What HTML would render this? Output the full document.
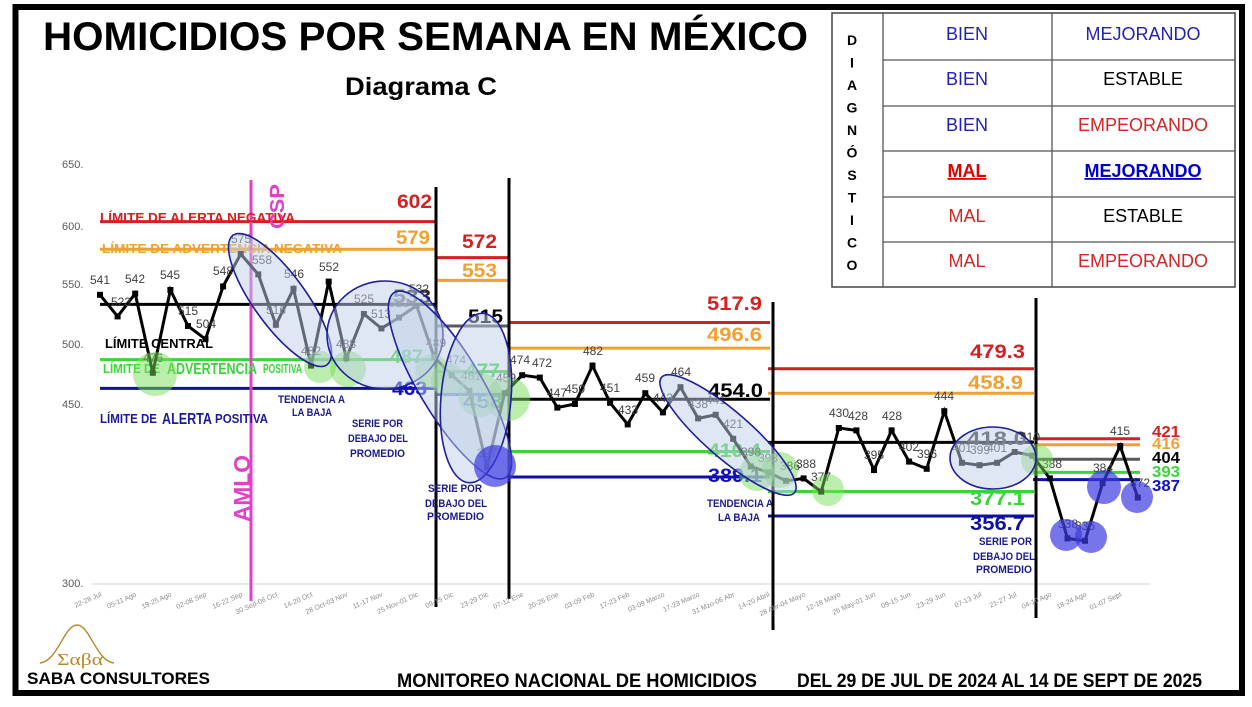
<!DOCTYPE html>
<html><head><meta charset="utf-8"><style>html,body{margin:0;padding:0;background:#fff}svg{display:block}</style></head>
<body>
<svg width="1252" height="707" viewBox="0 0 1252 707" font-family="'Liberation Sans', Arial, sans-serif">
<rect width="1252" height="707" fill="#fff"/>
<rect x="15.5" y="7" width="1226.5" height="686" fill="none" stroke="#000" stroke-width="6"/>

<!-- Title -->
<text x="43" y="50" font-size="40" font-weight="bold" fill="#000" textLength="765" lengthAdjust="spacingAndGlyphs">HOMICIDIOS POR SEMANA EN MÉXICO</text>
<text x="345" y="95" font-size="25" font-weight="bold" fill="#000" textLength="152" lengthAdjust="spacingAndGlyphs">Diagrama C</text>

<!-- Table -->
<rect x="832" y="13" width="403" height="274" fill="#fff" stroke="#444" stroke-width="1.5"/>
<g stroke="#555" stroke-width="1.3">
<line x1="883" y1="13" x2="883" y2="287"/><line x1="1052" y1="13" x2="1052" y2="287"/>
<line x1="883" y1="60" x2="1235" y2="60"/><line x1="883" y1="106" x2="1235" y2="106"/>
<line x1="883" y1="151" x2="1235" y2="151"/><line x1="883" y1="197" x2="1235" y2="197"/>
<line x1="883" y1="242" x2="1235" y2="242"/>
</g>
<g font-size="14" font-weight="bold" fill="#000" text-anchor="middle">
<text x="852" y="45">D</text><text x="852" y="67.5">I</text><text x="852" y="90">A</text><text x="852" y="112.5">G</text><text x="852" y="135">N</text><text x="852" y="157.5">Ó</text><text x="852" y="180">S</text><text x="852" y="202.5">T</text><text x="852" y="225">I</text><text x="852" y="247.5">C</text><text x="852" y="270">O</text>
</g>
<g font-size="18" text-anchor="middle">
<text x="967" y="40" fill="#2222b0">BIEN</text><text x="1143" y="40" fill="#2222b0">MEJORANDO</text>
<text x="967" y="85" fill="#2222b0">BIEN</text><text x="1143" y="85" fill="#000">ESTABLE</text>
<text x="967" y="131" fill="#2222b0">BIEN</text><text x="1143" y="131" fill="#d42525">EMPEORANDO</text>
<text x="967" y="177" fill="#e00000" font-weight="bold" text-decoration="underline">MAL</text><text x="1143" y="177" fill="#0000c8" font-weight="bold" text-decoration="underline">MEJORANDO</text>
<text x="967" y="222" fill="#d42525">MAL</text><text x="1143" y="222" fill="#000">ESTABLE</text>
<text x="967" y="267" fill="#d42525">MAL</text><text x="1143" y="267" fill="#d42525">EMPEORANDO</text>
</g>

<!-- Y axis labels -->
<g font-size="11" fill="#595959">
<text x="62" y="168">650.</text><text x="62" y="230">600.</text><text x="62" y="288">550.</text><text x="62" y="348">500.</text><text x="62" y="408">450.</text><text x="62" y="587">300.</text>
</g>
<line x1="92" y1="584" x2="1150" y2="584" stroke="#d9d9d9" stroke-width="1.2"/>

<!-- Limit lines -->
<g stroke-width="3">
<line x1="100" y1="221.6" x2="436" y2="221.6" stroke="#d42020"/>
<line x1="100" y1="249.2" x2="436" y2="249.2" stroke="#f0a030"/>
<line x1="100" y1="304.4" x2="436" y2="304.4" stroke="#000"/>
<line x1="100" y1="359.6" x2="436" y2="359.6" stroke="#3ad43a"/>
<line x1="100" y1="388.4" x2="436" y2="388.4" stroke="#1010a0"/>
<line x1="436" y1="257.6" x2="509" y2="257.6" stroke="#d42020"/>
<line x1="436" y1="280.4" x2="509" y2="280.4" stroke="#f0a030"/>
<line x1="436" y1="326" x2="509" y2="326" stroke="#595959"/>
<line x1="436" y1="371.6" x2="509" y2="371.6" stroke="#3ad43a"/>
<line x1="436" y1="394.4" x2="509" y2="394.4" stroke="#1010a0"/>
<line x1="509" y1="322.5" x2="770" y2="322.5" stroke="#d42020"/>
<line x1="509" y1="348.1" x2="770" y2="348.1" stroke="#f0a030"/>
<line x1="509" y1="399.2" x2="770" y2="399.2" stroke="#000"/>
<line x1="509" y1="451.5" x2="770" y2="451.5" stroke="#3ad43a"/>
<line x1="509" y1="477" x2="770" y2="477" stroke="#1010a0"/>
<line x1="768" y1="368.8" x2="1034" y2="368.8" stroke="#d42020"/>
<line x1="768" y1="393.3" x2="1034" y2="393.3" stroke="#f0a030"/>
<line x1="768" y1="442.4" x2="1034" y2="442.4" stroke="#000"/>
<line x1="768" y1="491.5" x2="1034" y2="491.5" stroke="#3ad43a"/>
<line x1="768" y1="516" x2="1034" y2="516" stroke="#1010a0"/>
<line x1="1033" y1="438.8" x2="1140" y2="438.8" stroke="#d42020"/>
<line x1="1033" y1="444.8" x2="1140" y2="444.8" stroke="#f0a030"/>
<line x1="1033" y1="459.2" x2="1140" y2="459.2" stroke="#595959"/>
<line x1="1033" y1="472.4" x2="1140" y2="472.4" stroke="#3ad43a"/>
<line x1="1033" y1="479.6" x2="1140" y2="479.6" stroke="#1010a0"/>
</g>

<!-- Vertical lines -->
<g stroke-width="3">
<line x1="251" y1="180" x2="251" y2="601" stroke="#e040c8"/>
<line x1="436" y1="187" x2="436" y2="607" stroke="#000"/>
<line x1="509" y1="178" x2="509" y2="599" stroke="#000"/>
<line x1="773" y1="302" x2="773" y2="630" stroke="#000"/>
<line x1="1036" y1="298" x2="1036" y2="618" stroke="#000"/>
</g>
<text transform="translate(250,522) rotate(-90)" font-size="23" font-weight="bold" fill="#e040c8" textLength="67" lengthAdjust="spacingAndGlyphs">AMLO</text>
<text transform="translate(284,229) rotate(-90)" font-size="20" font-weight="bold" fill="#e040c8" textLength="45" lengthAdjust="spacingAndGlyphs">CSP</text>

<!-- Limit names -->
<g font-weight="bold">
<text x="100" y="222" font-size="13" fill="#d42020" textLength="195" lengthAdjust="spacingAndGlyphs">LÍMITE DE ALERTA NEGATIVA</text>
<text x="102" y="253" font-size="13" fill="#f0a030" textLength="240" lengthAdjust="spacingAndGlyphs">LÍMITE DE ADVERTENCIA NEGATIVA</text>
<text x="105" y="348" font-size="13" fill="#000" textLength="108" lengthAdjust="spacingAndGlyphs">LÍMITE CENTRAL</text>
<text x="103" y="373" font-size="13" fill="#3ad43a" textLength="57" lengthAdjust="spacingAndGlyphs">LÍMITE DE</text>
<text x="167" y="374" font-size="16" fill="#3ad43a" textLength="90" lengthAdjust="spacingAndGlyphs">ADVERTENCIA</text>
<text x="263" y="373" font-size="13" fill="#3ad43a" textLength="39" lengthAdjust="spacingAndGlyphs">POSITIVA</text>
<text x="100" y="423" font-size="13" fill="#1a1a9a" textLength="57" lengthAdjust="spacingAndGlyphs">LÍMITE DE</text>
<text x="162" y="424" font-size="16" fill="#1a1a9a" textLength="50" lengthAdjust="spacingAndGlyphs">ALERTA</text>
<text x="215" y="423" font-size="13" fill="#1a1a9a" textLength="53" lengthAdjust="spacingAndGlyphs">POSITIVA</text>
</g>

<!-- Limit values -->
<g font-weight="bold" font-size="19">
<text x="397" y="208" fill="#d42020" textLength="35" lengthAdjust="spacingAndGlyphs">602</text>
<text x="396" y="244" fill="#f0a030" textLength="34" lengthAdjust="spacingAndGlyphs">579</text>
<text x="393" y="303" fill="#222" textLength="38" lengthAdjust="spacingAndGlyphs">533</text>
<text x="390" y="363" fill="#3ad43a" textLength="33" lengthAdjust="spacingAndGlyphs">487</text>
<text x="392" y="395" fill="#1010c0" textLength="35" lengthAdjust="spacingAndGlyphs">463</text>
<text x="462" y="248" fill="#d42020" textLength="35" lengthAdjust="spacingAndGlyphs">572</text>
<text x="462" y="277" fill="#f0a030" textLength="35" lengthAdjust="spacingAndGlyphs">553</text>
<text x="468" y="323" fill="#000" textLength="35" lengthAdjust="spacingAndGlyphs">515</text>
<text x="465" y="377" fill="#3ad43a" textLength="35" lengthAdjust="spacingAndGlyphs">477</text>
<text x="463" y="408" fill="#1010c0" textLength="40" lengthAdjust="spacingAndGlyphs">458</text>
<text x="707" y="310" fill="#d42020" textLength="55" lengthAdjust="spacingAndGlyphs">517.9</text>
<text x="707" y="341" fill="#f0a030" textLength="55" lengthAdjust="spacingAndGlyphs">496.6</text>
<text x="708" y="397" fill="#000" textLength="55" lengthAdjust="spacingAndGlyphs">454.0</text>
<text x="708" y="457" fill="#3ad43a" textLength="53" lengthAdjust="spacingAndGlyphs">410.4</text>
<text x="708" y="482" fill="#1010c0" textLength="54" lengthAdjust="spacingAndGlyphs">389.1</text>
<text x="970" y="358" fill="#d42020" textLength="55" lengthAdjust="spacingAndGlyphs">479.3</text>
<text x="968" y="389" fill="#f0a030" textLength="55" lengthAdjust="spacingAndGlyphs">458.9</text>
<text x="967" y="445" fill="#333" textLength="60" lengthAdjust="spacingAndGlyphs">418.0</text>
<text x="970" y="505" fill="#3ad43a" textLength="55" lengthAdjust="spacingAndGlyphs">377.1</text>
<text x="970" y="530" fill="#1010a0" textLength="55" lengthAdjust="spacingAndGlyphs">356.7</text>
</g>
<g font-weight="bold" font-size="16">
<text x="1152" y="437" fill="#d42020" textLength="28" lengthAdjust="spacingAndGlyphs">421</text>
<text x="1152" y="449" fill="#f0a030" textLength="28" lengthAdjust="spacingAndGlyphs">416</text>
<text x="1152" y="463" fill="#000" textLength="28" lengthAdjust="spacingAndGlyphs">404</text>
<text x="1152" y="477" fill="#3ad43a" textLength="28" lengthAdjust="spacingAndGlyphs">393</text>
<text x="1152" y="491" fill="#1010c0" textLength="28" lengthAdjust="spacingAndGlyphs">387</text>
</g>

<!-- Series -->
<polyline fill="none" stroke="#000" stroke-width="3" stroke-linejoin="miter" points="100,294.8 117.6,316.4 135.2,293.6 152.8,372.8 170.4,290 188,326 205.5,339.2 223.1,286.4 240.7,254 258.3,274.4 275.9,324.8 293.5,288.8 311.1,365.6 328.7,281.6 346.3,358.4 363.9,314 381.4,328.4 399,317.6 416.6,305.6 434.2,357.2 451.8,375.2 469.4,390.8 487,467.6 504.6,393.2 522.2,375.2 539.8,377.6 557.3,407.6 574.9,404 592.5,365.6 610.1,402.8 627.7,424.4 645.3,393.2 662.9,412.4 680.5,387.2 698.1,418.4 715.7,414.8 733.2,438.8 750.8,466.4 768.4,472.4 786,480.8 803.6,478.4 821.2,491.6 838.8,428 856.4,430.4 874,470 891.6,430.4 909.1,461.6 926.7,468.8 944.3,411.2 961.9,462.8 979.5,465.2 997.1,462.8 1014.7,452 1032.3,455.6 1049.9,478.4 1067.5,538.4 1085,540.8 1102.6,483.2 1120.2,446 1137.8,497.6"/>
<g fill="#000">
<rect x="97" y="291.8" width="6" height="6"/><rect x="114.6" y="313.4" width="6" height="6"/><rect x="132.2" y="290.6" width="6" height="6"/><rect x="149.8" y="369.8" width="6" height="6"/><rect x="167.4" y="287" width="6" height="6"/><rect x="185" y="323" width="6" height="6"/><rect x="202.5" y="336.2" width="6" height="6"/><rect x="220.1" y="283.4" width="6" height="6"/><rect x="237.7" y="251" width="6" height="6"/><rect x="255.3" y="271.4" width="6" height="6"/><rect x="272.9" y="321.8" width="6" height="6"/><rect x="290.5" y="285.8" width="6" height="6"/><rect x="308.1" y="362.6" width="6" height="6"/><rect x="325.7" y="278.6" width="6" height="6"/><rect x="343.3" y="355.4" width="6" height="6"/><rect x="360.9" y="311" width="6" height="6"/><rect x="378.4" y="325.4" width="6" height="6"/><rect x="396" y="314.6" width="6" height="6"/><rect x="413.6" y="302.6" width="6" height="6"/><rect x="431.2" y="354.2" width="6" height="6"/><rect x="448.8" y="372.2" width="6" height="6"/><rect x="466.4" y="387.8" width="6" height="6"/><rect x="484" y="464.6" width="6" height="6"/><rect x="501.6" y="390.2" width="6" height="6"/><rect x="519.2" y="372.2" width="6" height="6"/><rect x="536.8" y="374.6" width="6" height="6"/><rect x="554.3" y="404.6" width="6" height="6"/><rect x="571.9" y="401" width="6" height="6"/><rect x="589.5" y="362.6" width="6" height="6"/><rect x="607.1" y="399.8" width="6" height="6"/><rect x="624.7" y="421.4" width="6" height="6"/><rect x="642.3" y="390.2" width="6" height="6"/><rect x="659.9" y="409.4" width="6" height="6"/><rect x="677.5" y="384.2" width="6" height="6"/><rect x="695.1" y="415.4" width="6" height="6"/><rect x="712.7" y="411.8" width="6" height="6"/><rect x="730.2" y="435.8" width="6" height="6"/><rect x="747.8" y="463.4" width="6" height="6"/><rect x="765.4" y="469.4" width="6" height="6"/><rect x="783" y="477.8" width="6" height="6"/><rect x="800.6" y="475.4" width="6" height="6"/><rect x="818.2" y="488.6" width="6" height="6"/><rect x="835.8" y="425" width="6" height="6"/><rect x="853.4" y="427.4" width="6" height="6"/><rect x="871" y="467" width="6" height="6"/><rect x="888.6" y="427.4" width="6" height="6"/><rect x="906.1" y="458.6" width="6" height="6"/><rect x="923.7" y="465.8" width="6" height="6"/><rect x="941.3" y="408.2" width="6" height="6"/><rect x="958.9" y="459.8" width="6" height="6"/><rect x="976.5" y="462.2" width="6" height="6"/><rect x="994.1" y="459.8" width="6" height="6"/><rect x="1011.7" y="449" width="6" height="6"/><rect x="1029.3" y="452.6" width="6" height="6"/><rect x="1046.9" y="475.4" width="6" height="6"/><rect x="1064.5" y="535.4" width="6" height="6"/><rect x="1082" y="537.8" width="6" height="6"/><rect x="1099.6" y="480.2" width="6" height="6"/><rect x="1117.2" y="443" width="6" height="6"/><rect x="1134.8" y="494.6" width="6" height="6"/>
</g>
<g font-size="12" fill="#404040" text-anchor="middle">
<text x="100" y="284">541</text><text x="121" y="306">523</text><text x="135" y="283">542</text><text x="153" y="362">476</text><text x="170" y="279">545</text><text x="188" y="315">515</text><text x="206" y="328">504</text><text x="223" y="275">548</text><text x="241" y="243">575</text><text x="262" y="264">558</text><text x="276" y="314">516</text><text x="294" y="278">546</text><text x="311" y="355">482</text><text x="329" y="271">552</text><text x="346" y="348">488</text><text x="364" y="303">525</text><text x="381" y="318">513</text><text x="399" y="307">522</text><text x="419" y="293">532</text><text x="436" y="347">489</text><text x="456" y="364">474</text><text x="471" y="380">461</text><text x="487" y="457">397</text><text x="506" y="382">459</text><text x="520" y="364">474</text><text x="542" y="367">472</text><text x="557" y="397">447</text><text x="575" y="393">450</text><text x="593" y="355">482</text><text x="610" y="392">451</text><text x="628" y="414">433</text><text x="645" y="382">459</text><text x="663" y="402">443</text><text x="681" y="376">464</text><text x="698" y="408">438</text><text x="716" y="404">441</text><text x="733" y="428">421</text><text x="751" y="456">398</text><text x="768" y="462">393</text><text x="790" y="470">386</text><text x="806" y="468">388</text><text x="821" y="481">377</text><text x="839" y="417">430</text><text x="858" y="420">428</text><text x="874" y="459">395</text><text x="892" y="420">428</text><text x="909" y="451">402</text><text x="927" y="458">396</text><text x="944" y="400">444</text><text x="962" y="452">401</text><text x="980" y="454">399</text><text x="997" y="452">401</text><text x="1030" y="441">410</text><text x="1052" y="468">388</text><text x="1068" y="528">338</text><text x="1085" y="530">336</text><text x="1103" y="472">384</text><text x="1120" y="435">415</text><text x="1140" y="487">372</text>
</g>

<!-- Overlays: green circles -->
<g fill="rgb(120,220,90)" fill-opacity="0.5">
<circle cx="155" cy="374" r="22"/>
<circle cx="320" cy="367" r="16"/>
<circle cx="348" cy="369" r="18"/>
<circle cx="432" cy="371" r="17"/>
<circle cx="448" cy="380" r="17"/>
<circle cx="480" cy="395" r="22"/>
<circle cx="508" cy="399" r="22"/>
<circle cx="757" cy="473" r="18"/>
<circle cx="780" cy="470" r="18"/>
<circle cx="828" cy="490" r="16"/>
<circle cx="1037" cy="460" r="16"/>
</g>
<!-- Ellipses -->
<g fill="rgb(190,208,232)" fill-opacity="0.5" stroke="#1f1f99" stroke-width="1.6">
<ellipse cx="280" cy="300" rx="80" ry="26" transform="rotate(54 280 300)"/>
<ellipse cx="385" cy="335" rx="58" ry="54"/>
<ellipse cx="450" cy="385" rx="108" ry="31" transform="rotate(59 450 385)"/>
<ellipse cx="476" cy="398" rx="85" ry="35" transform="rotate(95 476 398)"/>
<ellipse cx="728" cy="435" rx="88" ry="23" transform="rotate(41 728 435)"/>
<ellipse cx="993" cy="458" rx="43" ry="31"/>
</g>
<!-- Blue circles -->
<g fill="rgb(60,60,225)" fill-opacity="0.7">
<circle cx="495" cy="466" r="21"/>
<circle cx="1066" cy="535" r="16"/>
<circle cx="1091" cy="537" r="16"/>
<circle cx="1104" cy="487" r="17"/>
<circle cx="1137" cy="497" r="16"/>
</g>

<!-- Annotations -->
<g font-size="11" font-weight="bold" fill="#1a1a8c">
<text x="278" y="403" textLength="67" lengthAdjust="spacingAndGlyphs">TENDENCIA A</text>
<text x="292" y="416" textLength="40" lengthAdjust="spacingAndGlyphs">LA BAJA</text>
<text x="352" y="427" textLength="51" lengthAdjust="spacingAndGlyphs">SERIE POR</text>
<text x="348" y="442" textLength="60" lengthAdjust="spacingAndGlyphs">DEBAJO DEL</text>
<text x="350" y="457" textLength="55" lengthAdjust="spacingAndGlyphs">PROMEDIO</text>
<text x="428" y="492" textLength="54" lengthAdjust="spacingAndGlyphs">SERIE POR</text>
<text x="425" y="507" textLength="62" lengthAdjust="spacingAndGlyphs">DEBAJO DEL</text>
<text x="427" y="520" textLength="57" lengthAdjust="spacingAndGlyphs">PROMEDIO</text>
<text x="707" y="507" textLength="66" lengthAdjust="spacingAndGlyphs">TENDENCIA A</text>
<text x="718" y="521" textLength="42" lengthAdjust="spacingAndGlyphs">LA BAJA</text>
<text x="979" y="545" textLength="53" lengthAdjust="spacingAndGlyphs">SERIE POR</text>
<text x="973" y="560" textLength="62" lengthAdjust="spacingAndGlyphs">DEBAJO DEL</text>
<text x="976" y="573" textLength="56" lengthAdjust="spacingAndGlyphs">PROMEDIO</text>
</g>

<!-- X labels -->
<g font-size="7" fill="#8c8c8c" text-anchor="end">
<text transform="translate(102,596) rotate(-24)">22-28 Jul</text>
<text transform="translate(137,596) rotate(-24)">05-11 Ago</text>
<text transform="translate(172,596) rotate(-24)">19-25 Ago</text>
<text transform="translate(207,596) rotate(-24)">02-08 Sep</text>
<text transform="translate(243,596) rotate(-24)">16-22 Sep</text>
<text transform="translate(278,596) rotate(-24)">30 Sep-06 Oct</text>
<text transform="translate(313,596) rotate(-24)">14-20 Oct</text>
<text transform="translate(348,596) rotate(-24)">28 Oct-03 Nov</text>
<text transform="translate(383,596) rotate(-24)">11-17 Nov</text>
<text transform="translate(419,596) rotate(-24)">25 Nov-01 Dic</text>
<text transform="translate(454,596) rotate(-24)">09-15 Dic</text>
<text transform="translate(489,596) rotate(-24)">23-29 Dic</text>
<text transform="translate(524,596) rotate(-24)">07-12 Ene</text>
<text transform="translate(559,596) rotate(-24)">20-26 Ene</text>
<text transform="translate(595,596) rotate(-24)">03-09 Feb</text>
<text transform="translate(630,596) rotate(-24)">17-23 Feb</text>
<text transform="translate(665,596) rotate(-24)">03-09 Marzo</text>
<text transform="translate(700,596) rotate(-24)">17-23 Marzo</text>
<text transform="translate(735,596) rotate(-24)">31 Mzo-06 Abr</text>
<text transform="translate(770,596) rotate(-24)">14-20 Abril</text>
<text transform="translate(806,596) rotate(-24)">28 Abr-04 Mayo</text>
<text transform="translate(841,596) rotate(-24)">12-18 Mayo</text>
<text transform="translate(876,596) rotate(-24)">26 May-01 Jun</text>
<text transform="translate(911,596) rotate(-24)">09-15 Jun</text>
<text transform="translate(946,596) rotate(-24)">23-29 Jun</text>
<text transform="translate(982,596) rotate(-24)">07-13 Jul</text>
<text transform="translate(1017,596) rotate(-24)">21-27 Jul</text>
<text transform="translate(1052,596) rotate(-24)">04-10 Ago</text>
<text transform="translate(1087,596) rotate(-24)">18-24 Ago</text>
<text transform="translate(1122,596) rotate(-24)">01-07 Sept</text>
</g>

<!-- Logo & footer -->
<path d="M40,663 C58,661 64,625 77,625 C90,625 96,661 114,663" fill="none" stroke="#b8862b" stroke-width="1.4"/>
<text x="57" y="665" font-family="'Liberation Serif', serif" font-size="17" fill="#b8862b" textLength="46" lengthAdjust="spacingAndGlyphs">Σαβα</text>
<text x="27" y="684" font-size="17" font-weight="bold" fill="#000" textLength="183" lengthAdjust="spacingAndGlyphs">SABA CONSULTORES</text>
<text x="397" y="687" font-size="19" font-weight="bold" fill="#000" textLength="360" lengthAdjust="spacingAndGlyphs">MONITOREO NACIONAL DE HOMICIDIOS</text>
<text x="797" y="687" font-size="19" font-weight="bold" fill="#000" textLength="405" lengthAdjust="spacingAndGlyphs">DEL 29 DE JUL DE 2024 AL 14 DE SEPT DE 2025</text>
</svg>
</body></html>
